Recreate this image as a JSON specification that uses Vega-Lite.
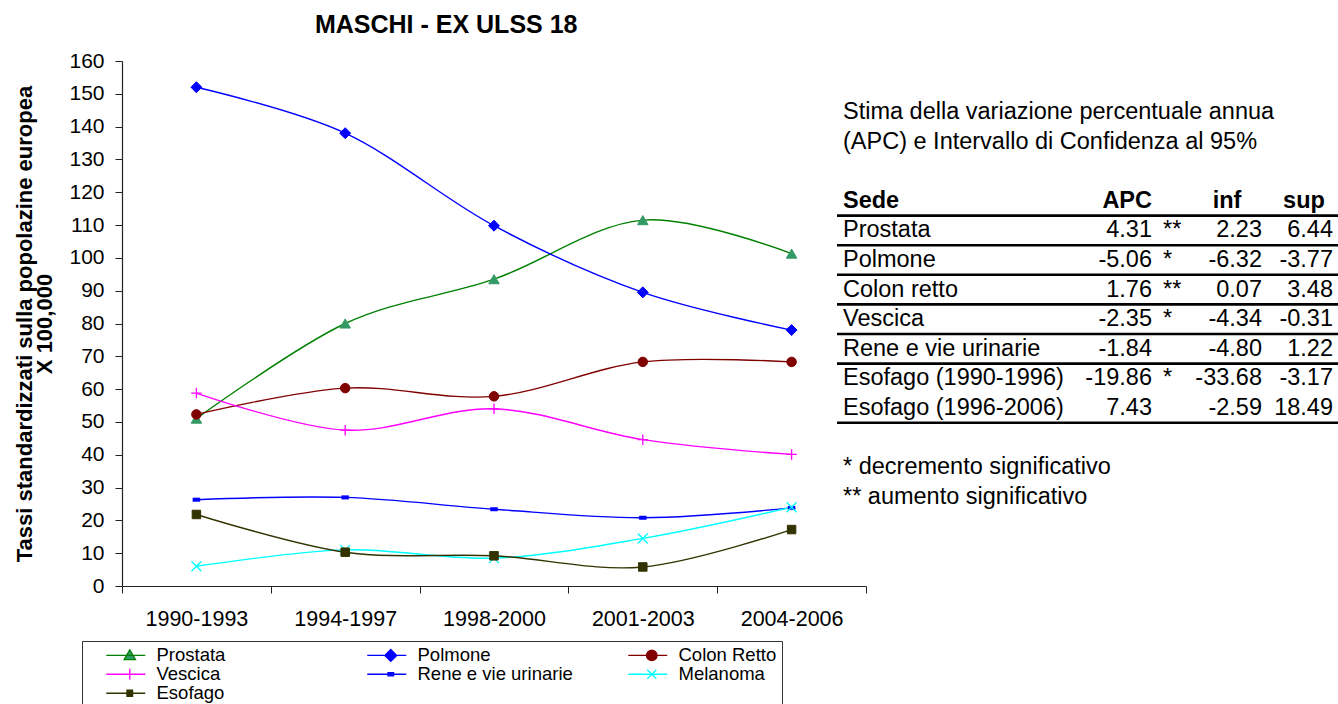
{
  "$schema": "https://vega.github.io/schema/vega-lite/v6.json",
  "background": "white",
  "padding": {"left": 13, "top": 13, "right": 0, "bottom": 0},
  "spacing": 0,
  "bounds": "flush",
  "config": {
    "view": {"stroke": null},
    "font": "Liberation Sans",
    "locale": {"number": {"decimal": ".", "thousands": ",", "grouping": [3], "currency": ["", ""], "minus": "-"}},
    "axis": {"labelFont": "Liberation Sans", "titleFont": "Liberation Sans", "labelColor": "#000", "titleColor": "#000", "domainColor": "#222", "tickColor": "#222", "grid": false}
  },
  "datasets": {
    "tassi": [
      {"periodo": "1990-1993", "serie": "Prostata", "tasso": 51},
      {"periodo": "1994-1997", "serie": "Prostata", "tasso": 80},
      {"periodo": "1998-2000", "serie": "Prostata", "tasso": 93.5},
      {"periodo": "2001-2003", "serie": "Prostata", "tasso": 111.5},
      {"periodo": "2004-2006", "serie": "Prostata", "tasso": 101.3},
      {"periodo": "1990-1993", "serie": "Polmone", "tasso": 152},
      {"periodo": "1994-1997", "serie": "Polmone", "tasso": 138},
      {"periodo": "1998-2000", "serie": "Polmone", "tasso": 109.8},
      {"periodo": "2001-2003", "serie": "Polmone", "tasso": 89.5},
      {"periodo": "2004-2006", "serie": "Polmone", "tasso": 78},
      {"periodo": "1990-1993", "serie": "Colon Retto", "tasso": 52.3},
      {"periodo": "1994-1997", "serie": "Colon Retto", "tasso": 60.3},
      {"periodo": "1998-2000", "serie": "Colon Retto", "tasso": 57.8},
      {"periodo": "2001-2003", "serie": "Colon Retto", "tasso": 68.3},
      {"periodo": "2004-2006", "serie": "Colon Retto", "tasso": 68.3},
      {"periodo": "1990-1993", "serie": "Vescica", "tasso": 58.8},
      {"periodo": "1994-1997", "serie": "Vescica", "tasso": 47.5},
      {"periodo": "1998-2000", "serie": "Vescica", "tasso": 54},
      {"periodo": "2001-2003", "serie": "Vescica", "tasso": 44.6},
      {"periodo": "2004-2006", "serie": "Vescica", "tasso": 40.1},
      {"periodo": "1990-1993", "serie": "Rene e vie urinarie", "tasso": 26.3},
      {"periodo": "1994-1997", "serie": "Rene e vie urinarie", "tasso": 27},
      {"periodo": "1998-2000", "serie": "Rene e vie urinarie", "tasso": 23.4},
      {"periodo": "2001-2003", "serie": "Rene e vie urinarie", "tasso": 20.8},
      {"periodo": "2004-2006", "serie": "Rene e vie urinarie", "tasso": 23.8},
      {"periodo": "1990-1993", "serie": "Melanoma", "tasso": 6},
      {"periodo": "1994-1997", "serie": "Melanoma", "tasso": 11},
      {"periodo": "1998-2000", "serie": "Melanoma", "tasso": 8.5},
      {"periodo": "2001-2003", "serie": "Melanoma", "tasso": 14.5},
      {"periodo": "2004-2006", "serie": "Melanoma", "tasso": 24},
      {"periodo": "1990-1993", "serie": "Esofago", "tasso": 21.8},
      {"periodo": "1994-1997", "serie": "Esofago", "tasso": 10.3},
      {"periodo": "1998-2000", "serie": "Esofago", "tasso": 9.2},
      {"periodo": "2001-2003", "serie": "Esofago", "tasso": 5.8},
      {"periodo": "2004-2006", "serie": "Esofago", "tasso": 17.2}
    ],
    "apc": [
      {"sede": "Prostata", "apc": 4.31, "sig": "**", "inf": 2.23, "sup": 6.44},
      {"sede": "Polmone", "apc": -5.06, "sig": "*", "inf": -6.32, "sup": -3.77},
      {"sede": "Colon retto", "apc": 1.76, "sig": "**", "inf": 0.07, "sup": 3.48},
      {"sede": "Vescica", "apc": -2.35, "sig": "*", "inf": -4.34, "sup": -0.31},
      {"sede": "Rene e vie urinarie", "apc": -1.84, "sig": "", "inf": -4.80, "sup": 1.22},
      {"sede": "Esofago (1990-1996)", "apc": -19.86, "sig": "*", "inf": -33.68, "sup": -3.17},
      {"sede": "Esofago (1996-2006)", "apc": 7.43, "sig": "", "inf": -2.59, "sup": 18.49}
    ],
    "note": [
      {"riga": "t1", "testo": "Stima della variazione percentuale annua"},
      {"riga": "t2", "testo": "(APC) e Intervallo di Confidenza al 95%"},
      {"riga": "n1", "testo": "* decremento significativo"},
      {"riga": "n2", "testo": "** aumento significativo"}
    ]
  },
  "hconcat": [
    {
      "width": 744,
      "height": 525,
      "title": {"text": "MASCHI - EX ULSS 18", "fontSize": 25, "fontWeight": "bold", "font": "Liberation Sans", "color": "#000", "frame": "bounds", "anchor": "middle", "offset": 12, "dx": 6},
      "data": {"name": "tassi"},
      "encoding": {
        "x": {"field": "periodo", "type": "ordinal", "title": null,
              "scale": {"type": "band", "paddingInner": 0, "paddingOuter": 0},
              "axis": {"labelAngle": 0, "tickBand": "extent", "tickSize": 7, "labelFontSize": 21.5, "labelPadding": 15, "domainWidth": 1.2}},
        "y": {"field": "tasso", "type": "quantitative",
              "scale": {"domain": [0, 160], "nice": false},
              "axis": {"values": [0,10,20,30,40,50,60,70,80,90,100,110,120,130,140,150,160], "tickSize": 7, "labelFontSize": 21, "labelPadding": 11, "domainWidth": 1.2,
                       "title": ["Tassi standardizzati sulla popolazine europea", "X 100,000"], "titleFontSize": 22, "titleFontWeight": "bold", "titleLineHeight": 20, "titlePadding": 12}}
      },
      "layer": [
        {
          "transform": [{"filter": "false"}],
          "mark": {"type": "point", "filled": true, "strokeWidth": 1.3, "opacity": 1},
          "encoding": {
            "fill": {"field": "serie", "type": "nominal",
                     "scale": {"domain": ["Prostata", "Polmone", "Colon Retto", "Vescica", "Rene e vie urinarie", "Melanoma", "Esofago"],
                               "range": ["#339966", "#0000FF", "#800000", "#FF00FF", "#0000FF", "#00FFFF", "#333300"]},
                     "legend": {"title": null, "orient": "none", "direction": "horizontal", "legendX": -40, "legendY": 580, "columns": 3, "gridAlign": "all", "columnPadding": 36, "rowPadding": 0, "padding": 5, "strokeColor": "#333", "symbolSize": 196, "symbolStrokeWidth": 1.3, "labelOffset": 51, "labelFontSize": 18.5, "labelFont": "Liberation Sans", "labelColor": "#000", "symbolOpacity": 1}},
            "stroke": {"field": "serie", "type": "nominal",
                       "scale": {"domain": ["Prostata", "Polmone", "Colon Retto", "Vescica", "Rene e vie urinarie", "Melanoma", "Esofago"],
                                 "range": ["#008000", "#0000FF", "#800000", "#FF00FF", "#0000FF", "#00FFFF", "#333300"]},
                       "legend": {"title": null, "orient": "none", "direction": "horizontal", "legendX": -40, "legendY": 580, "columns": 3, "gridAlign": "all", "columnPadding": 36, "rowPadding": 0, "padding": 5, "strokeColor": "#333", "symbolSize": 196, "symbolStrokeWidth": 1.3, "labelOffset": 51, "labelFontSize": 18.5, "labelFont": "Liberation Sans", "labelColor": "#000", "symbolOpacity": 1}},
            "shape": {"field": "serie", "type": "nominal",
                      "scale": {"domain": ["Prostata", "Polmone", "Colon Retto", "Vescica", "Rene e vie urinarie", "Melanoma", "Esofago"],
                                "range": ["M1.43,0H7M4.79,-0.8L5.6,0.6H3.98Z",
                                          "M1.43,0H7M4.79,-0.85L5.64,0L4.79,0.85L3.94,0Z",
                                          "M1.43,0H7M5.54,0A0.75,0.75 0 1,1 4.04,0A0.75,0.75 0 1,1 5.54,0Z",
                                          "M1.43,0H7M4.79,-0.8V0.8",
                                          "M1.43,0H7M4.39,-0.22H5.19V0.22H4.39Z",
                                          "M1.43,0H7M4.14,-0.65L5.44,0.65M4.14,0.65L5.44,-0.65",
                                          "M1.43,0H7M4.39,-0.45H5.19V0.45H4.39Z"]},
                      "legend": {"title": null, "orient": "none", "direction": "horizontal", "legendX": -40, "legendY": 580, "columns": 3, "gridAlign": "all", "columnPadding": 36, "rowPadding": 0, "padding": 5, "strokeColor": "#333", "symbolSize": 196, "symbolStrokeWidth": 1.3, "labelOffset": 51, "labelFontSize": 18.5, "labelFont": "Liberation Sans", "labelColor": "#000", "symbolOpacity": 1}}
          }
        },
        {
          "mark": {"type": "line", "interpolate": "cardinal", "strokeWidth": 1.4},
          "encoding": {
            "color": {"field": "serie", "type": "nominal", "legend": null,
                      "scale": {"domain": ["Prostata", "Polmone", "Colon Retto", "Vescica", "Rene e vie urinarie", "Melanoma", "Esofago"],
                                "range": ["#008000", "#0000FF", "#800000", "#FF00FF", "#0000FF", "#00FFFF", "#333300"]}}
          }
        },
        {"transform": [{"filter": "datum.serie === 'Prostata'"}],
         "mark": {"type": "point", "shape": "triangle-up", "filled": true, "fill": "#339966", "stroke": "#339966", "strokeWidth": 1, "size": 110, "opacity": 1}},
        {"transform": [{"filter": "datum.serie === 'Polmone'"}],
         "mark": {"type": "point", "shape": "diamond", "filled": true, "fill": "#0000FF", "stroke": "#0000FF", "strokeWidth": 1, "size": 120, "opacity": 1}},
        {"transform": [{"filter": "datum.serie === 'Colon Retto'"}],
         "mark": {"type": "point", "shape": "circle", "filled": true, "fill": "#800000", "stroke": "#800000", "strokeWidth": 1, "size": 90, "opacity": 1}},
        {"transform": [{"filter": "datum.serie === 'Vescica'"}],
         "mark": {"type": "point", "shape": "M-1,0H1M0,-1V1", "filled": false, "stroke": "#FF00FF", "strokeWidth": 1.3, "size": 110, "opacity": 1}},
        {"transform": [{"filter": "datum.serie === 'Rene e vie urinarie'"}],
         "mark": {"type": "point", "shape": "M-1,-0.5H1V0.5H-1Z", "filled": true, "fill": "#0000FF", "stroke": "#0000FF", "strokeWidth": 0.5, "size": 49, "opacity": 1}},
        {"transform": [{"filter": "datum.serie === 'Melanoma'"}],
         "mark": {"type": "point", "shape": "M-1,-1L1,1M-1,1L1,-1", "filled": false, "stroke": "#00FFFF", "strokeWidth": 1.3, "size": 100, "opacity": 1}},
        {"transform": [{"filter": "datum.serie === 'Esofago'"}],
         "mark": {"type": "point", "shape": "square", "filled": true, "fill": "#333300", "stroke": "#333300", "strokeWidth": 1, "size": 72, "opacity": 1}}
      ]
    },
    {
      "width": 472,
      "height": 525,
      "layer": [
        {
          "data": {"name": "apc"},
          "transform": [{"filter": "datum.sede !== 'Esofago (1996-2006)'"}],
          "mark": {"type": "rule", "color": "#000", "strokeWidth": 2.6, "xOffset": -29},
          "encoding": {
            "x": {"datum": "Sede", "type": "nominal", "axis": null, "scale": {"type": "point", "domain": ["Sede", "APC", "sig", "inf", "sup"], "padding": 0}},
            "x2": {"datum": "sup"},
            "y": {"field": "sede", "type": "nominal", "bandPosition": 0, "axis": null,
                  "scale": {"type": "band", "domain": ["b0", "t1", "t2", "g1", "Sede", "Prostata", "Polmone", "Colon retto", "Vescica", "Rene e vie urinarie", "Esofago (1990-1996)", "Esofago (1996-2006)", "g2", "n1", "n2", "b9"],
                            "paddingInner": 0, "paddingOuter": 0.868, "align": 0.128}}
          }
        },
        {
          "data": {"name": "apc"},
          "transform": [{"filter": "datum.sede === 'Esofago (1996-2006)'"}],
          "mark": {"type": "rule", "color": "#000", "strokeWidth": 2.6, "xOffset": -29},
          "encoding": {"x": {"datum": "Sede", "type": "nominal"}, "x2": {"datum": "sup"}, "y": {"field": "sede", "type": "nominal", "bandPosition": 1, "axis": null}}
        },
        {
          "data": {"name": "note"},
          "mark": {"type": "text", "align": "left", "baseline": "middle", "fontSize": 23.5, "dx": -23, "color": "#000"},
          "encoding": {
            "x": {"datum": "Sede", "type": "nominal"},
            "y": {"field": "riga", "type": "nominal", "axis": null},
            "text": {"field": "testo"}
          }
        },
        {
          "data": {"name": "apc"},
          "mark": {"type": "text", "align": "left", "baseline": "middle", "fontSize": 23.5, "dx": -23, "color": "#000"},
          "encoding": {"x": {"datum": "Sede", "type": "nominal"}, "y": {"field": "sede", "type": "nominal"}, "text": {"field": "sede"}}
        },
        {
          "data": {"name": "apc"},
          "mark": {"type": "text", "align": "right", "baseline": "middle", "fontSize": 23.5, "dx": 168, "color": "#000"},
          "encoding": {"x": {"datum": "APC", "type": "nominal"}, "y": {"field": "sede", "type": "nominal"}, "text": {"field": "apc", "format": ".2f"}}
        },
        {
          "data": {"name": "apc"},
          "mark": {"type": "text", "align": "left", "baseline": "middle", "fontSize": 23.5, "dx": 61, "color": "#000"},
          "encoding": {"x": {"datum": "sig", "type": "nominal"}, "y": {"field": "sede", "type": "nominal"}, "text": {"field": "sig"}}
        },
        {
          "data": {"name": "apc"},
          "mark": {"type": "text", "align": "right", "baseline": "middle", "fontSize": 23.5, "dx": 42, "color": "#000"},
          "encoding": {"x": {"datum": "inf", "type": "nominal"}, "y": {"field": "sede", "type": "nominal"}, "text": {"field": "inf", "format": ".2f"}}
        },
        {
          "data": {"name": "apc"},
          "mark": {"type": "text", "align": "right", "baseline": "middle", "fontSize": 23.5, "dx": -5, "color": "#000"},
          "encoding": {"x": {"datum": "sup", "type": "nominal"}, "y": {"field": "sede", "type": "nominal"}, "text": {"field": "sup", "format": ".2f"}}
        },
        {
          "data": {"values": [{}]},
          "mark": {"type": "text", "align": "left", "baseline": "middle", "fontSize": 23.5, "fontWeight": "bold", "dx": -23, "color": "#000"},
          "encoding": {"x": {"datum": "Sede", "type": "nominal"}, "y": {"datum": "Sede", "type": "nominal"}, "text": {"value": "Sede"}}
        },
        {
          "data": {"values": [{}]},
          "mark": {"type": "text", "align": "right", "baseline": "middle", "fontSize": 23.5, "fontWeight": "bold", "dx": 168, "color": "#000"},
          "encoding": {"x": {"datum": "APC", "type": "nominal"}, "y": {"datum": "Sede", "type": "nominal"}, "text": {"value": "APC"}}
        },
        {
          "data": {"values": [{}]},
          "mark": {"type": "text", "align": "center", "baseline": "middle", "fontSize": 23.5, "fontWeight": "bold", "dx": 7, "color": "#000"},
          "encoding": {"x": {"datum": "inf", "type": "nominal"}, "y": {"datum": "Sede", "type": "nominal"}, "text": {"value": "inf"}}
        },
        {
          "data": {"values": [{}]},
          "mark": {"type": "text", "align": "center", "baseline": "middle", "fontSize": 23.5, "fontWeight": "bold", "dx": -34, "color": "#000"},
          "encoding": {"x": {"datum": "sup", "type": "nominal"}, "y": {"datum": "Sede", "type": "nominal"}, "text": {"value": "sup"}}
        }
      ]
    }
  ]
}
